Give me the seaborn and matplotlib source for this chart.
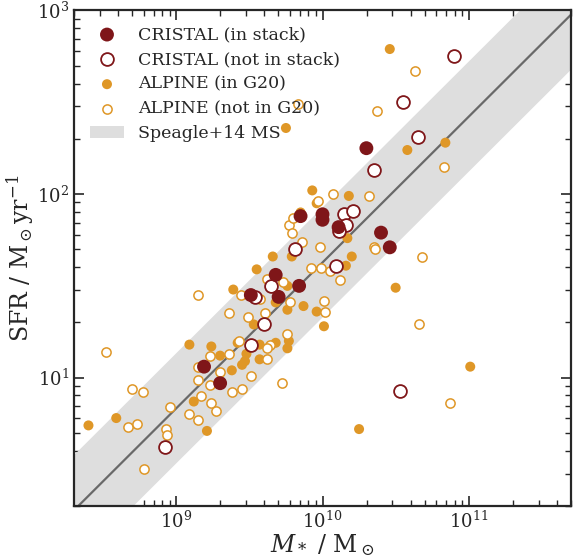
import numpy as np
import matplotlib
matplotlib.use("Agg")
import matplotlib.pyplot as plt
import seaborn as sns

# log10 stellar mass [Msun] and log10 SFR [Msun / yr]
cristal_stack_logm = [10.30, 9.85, 10.00, 10.00, 10.11, 10.40, 10.46, 9.68, 9.84,
                      9.51, 9.70, 9.19, 9.30]
cristal_stack_logsfr = [2.25, 1.88, 1.89, 1.86, 1.82, 1.79, 1.71, 1.56, 1.50,
                        1.45, 1.44, 1.06, 0.97]

cristal_other_logm = [10.90, 10.55, 10.65, 10.35, 10.15, 10.21, 10.16, 10.11, 9.81,
                      10.09, 9.65, 9.54, 9.60, 9.51, 8.92, 10.53]
cristal_other_logsfr = [2.75, 2.50, 2.31, 2.13, 1.89, 1.91, 1.83, 1.80, 1.70,
                        1.61, 1.50, 1.44, 1.29, 1.18, 0.62, 0.93]

alpine_g20_logm = [10.46, 10.58, 10.84, 10.18, 11.01, 10.25, 9.75, 9.93, 9.96, 9.85,
                   10.17, 9.66, 9.79, 10.20, 10.16, 9.55, 10.50, 9.76, 9.87, 9.76,
                   9.96, 10.01, 9.53, 9.77, 9.68, 9.57, 9.76, 9.39, 9.68, 9.09,
                   9.24, 9.30, 9.48, 9.47, 9.45, 9.57, 9.38, 9.12, 9.21, 8.40,
                   8.59, 9.42]
alpine_g20_logsfr = [2.79, 2.24, 2.28, 1.99, 1.06, 0.72, 2.36, 2.02, 1.95, 1.90,
                     1.76, 1.66, 1.66, 1.66, 1.61, 1.59, 1.49, 1.50, 1.39, 1.37,
                     1.36, 1.28, 1.29, 1.20, 1.19, 1.18, 1.16, 1.48, 1.41, 1.18,
                     1.17, 1.12, 1.13, 1.09, 1.07, 1.10, 1.04, 0.87, 0.71, 0.74,
                     0.78, 1.19]

alpine_other_logm = [10.63, 10.37, 10.83, 10.32, 9.83, 10.07, 9.97, 9.77, 9.79, 9.80,
                     9.86, 9.98, 10.35, 10.36, 10.68, 9.92, 9.99, 10.05, 10.12, 9.62,
                     9.73, 9.57, 9.78, 10.01, 9.61, 10.02, 9.76, 10.66, 9.64, 9.62,
                     10.87, 9.15, 9.36, 9.44, 9.49, 9.43, 9.36, 9.23, 9.15, 9.15,
                     9.30, 9.23, 9.51, 9.62, 9.45, 9.38, 9.17, 9.24, 9.27, 8.96,
                     9.09, 9.15, 9.72, 8.93, 8.52, 8.70, 8.77, 8.67, 8.73, 8.94,
                     8.78]
alpine_other_logsfr = [2.67, 2.45, 2.15, 1.99, 2.49, 2.00, 1.96, 1.83, 1.79, 1.87,
                       1.74, 1.71, 1.71, 1.70, 1.66, 1.60, 1.60, 1.58, 1.53, 1.54,
                       1.52, 1.43, 1.41, 1.42, 1.35, 1.36, 1.24, 1.29, 1.18, 1.16,
                       0.86, 1.45, 1.35, 1.45, 1.33, 1.20, 1.13, 1.12, 1.06, 0.99,
                       1.03, 0.96, 1.01, 1.10, 0.94, 0.92, 0.90, 0.86, 0.82, 0.84,
                       0.80, 0.77, 0.97, 0.72, 1.14, 0.94, 0.92, 0.73, 0.75, 0.69,
                       0.50]

# Speagle et al. (2014) main sequence at cosmic age t [Gyr], +/- scatter in dex
MS_AGE_GYR = 1.75
MS_SCATTER_DEX = 0.3

RED = "#7f1619"
ORANGE = "#df9727"
BAND = "#dedede"
LINE = "#696969"

sns.set_style("ticks")
plt.rcParams["font.family"] = ["DejaVu Serif"]
plt.rcParams["mathtext.fontset"] = "dejavuserif"

fig = plt.figure(figsize=(5.74, 5.58), dpi=100)
ax = fig.add_axes([0.1289, 0.0932, 0.8659, 0.888])
ax.set_xscale("log")
ax.set_yscale("log")

# main-sequence relation and its scatter band
logm_grid = np.linspace(8.0, 12.0, 200)
ms_slope = 0.84 - 0.026 * MS_AGE_GYR
ms_zero = 6.51 - 0.11 * MS_AGE_GYR
ms_logsfr = ms_slope * logm_grid - ms_zero
ax.fill_between(10 ** logm_grid, 10 ** (ms_logsfr - MS_SCATTER_DEX),
                10 ** (ms_logsfr + MS_SCATTER_DEX), color=BAND, lw=0,
                label="Speagle+14 MS", zorder=1)
sns.lineplot(x=10 ** logm_grid, y=10 ** ms_logsfr, color=LINE, lw=1.6,
             ax=ax, zorder=2, legend=False)

sns.scatterplot(x=10 ** np.array(alpine_g20_logm), y=10 ** np.array(alpine_g20_logsfr),
                s=52, color=ORANGE, edgecolor="none", linewidth=0,
                label="ALPINE (in G20)", zorder=3, ax=ax)
sns.scatterplot(x=10 ** np.array(alpine_other_logm), y=10 ** np.array(alpine_other_logsfr),
                s=44, color="white", edgecolor=ORANGE, linewidth=1.1,
                label="ALPINE (not in G20)", zorder=4, ax=ax)
sns.scatterplot(x=10 ** np.array(cristal_other_logm), y=10 ** np.array(cristal_other_logsfr),
                s=85, color="white", edgecolor=RED, linewidth=1.3,
                label="CRISTAL (not in stack)", zorder=5, ax=ax)
sns.scatterplot(x=10 ** np.array(cristal_stack_logm), y=10 ** np.array(cristal_stack_logsfr),
                s=100, color=RED, edgecolor="none", linewidth=0,
                label="CRISTAL (in stack)", zorder=6, ax=ax)

ax.set_xlim(2e8, 5e11)
ax.set_ylim(2, 1000)

order = ["CRISTAL (in stack)", "CRISTAL (not in stack)", "ALPINE (in G20)",
         "ALPINE (not in G20)", "Speagle+14 MS"]
handles, labels = ax.get_legend_handles_labels()
lookup = dict(zip(labels, handles))
ax.legend([lookup[k] for k in order], order, loc="upper left", frameon=False,
          fontsize=12.5, labelspacing=0.45, handlelength=2.0)

ax.tick_params(which="both", direction="in", top=True, right=True, labelsize=13)
ax.tick_params(which="major", length=7, width=1.2)
ax.tick_params(which="minor", length=4, width=1.0)
for sp in ax.spines.values():
    sp.set_linewidth(1.6)

ax.set_xlabel(r"$M_*$ / M$_\odot$", fontsize=17, labelpad=0)
ax.set_ylabel(r"SFR / M$_\odot$yr$^{-1}$", fontsize=17, labelpad=1)

fig.savefig("out.png", dpi=100)
